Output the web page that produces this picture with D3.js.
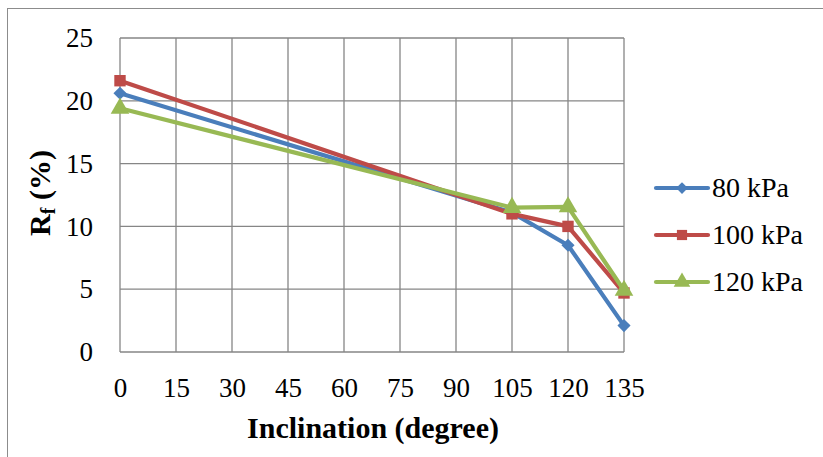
<!DOCTYPE html>
<html><head><meta charset="utf-8">
<script src="https://cdn.jsdelivr.net/npm/d3@7"></script>
<style>body{margin:0;background:#fff}svg{display:block}text{font-family:"Liberation Serif","Times New Roman","DejaVu Serif",serif}</style>
</head><body>
<script>
const xValues = [0, 105, 120, 135];
const xTicks = [0, 15, 30, 45, 60, 75, 90, 105, 120, 135];
const yTicks = [0, 5, 10, 15, 20, 25];
const seriesNames = ["80 kPa", "100 kPa", "120 kPa"];
const s80 = [20.6, 11.1, 8.5, 2.1];
const s100 = [21.6, 11.0, 10.0, 4.7];
const s120 = [19.4, 11.5, 11.55, 4.9];
const colors = ["#4A7EBB", "#BE4B48", "#98B954"];
const symbols = [d3.symbolDiamond2, d3.symbolSquare, d3.symbolTriangle];

const W = 823, H = 457;
const svg = d3.select("body").append("svg").attr("width", W).attr("height", H);
svg.append("rect").attr("x", 7.5).attr("y", 8.5).attr("width", 830).attr("height", 470)
  .attr("fill", "#fff").attr("stroke", "#8c8c8c").attr("stroke-width", 1);

const x = d3.scaleLinear().domain([0, 135]).range([120, 624]);
const y = d3.scaleLinear().domain([0, 25]).range([352, 38]);

const g = svg.append("g");
g.selectAll(".vg").data(xTicks).join("line")
  .attr("x1", d => x(d)).attr("x2", d => x(d)).attr("y1", y(0)).attr("y2", y(25))
  .attr("stroke", "#868686").attr("stroke-width", 1.3);
g.selectAll(".hg").data(yTicks).join("line")
  .attr("x1", x(0)).attr("x2", x(135)).attr("y1", d => y(d)).attr("y2", d => y(d))
  .attr("stroke", "#868686").attr("stroke-width", 1.3);

const xAxis = d3.axisBottom(x).tickValues(xTicks).tickSize(0).tickPadding(26);
const gx = svg.append("g").attr("transform", `translate(0,${y(0)})`).call(xAxis);
gx.attr("font-family", null).attr("font-size", null);
gx.select(".domain").remove();
gx.selectAll("text").style("font-size", "27px").attr("fill", "#000");

const yAxis = d3.axisLeft(y).tickValues(yTicks).tickSize(0).tickPadding(27);
const gy = svg.append("g").attr("transform", `translate(${x(0)},0)`).call(yAxis);
gy.attr("font-family", null).attr("font-size", null);
gy.select(".domain").remove();
gy.selectAll("text").style("font-size", "27px").attr("fill", "#000");

svg.append("text").attr("x", 373).attr("y", 438).attr("text-anchor", "middle")
  .style("font-size", "30px").attr("font-weight", "bold").text("Inclination (degree)");

const yt = svg.append("text").attr("transform", "translate(50,193) rotate(-90)").attr("text-anchor", "middle")
  .style("font-size", "30px").attr("font-weight", "bold");
yt.append("tspan").text("R");
yt.append("tspan").style("font-size", "20px").attr("dy", 5).text("f");
yt.append("tspan").attr("dy", -5).text(" (%)");

const data = [s80, s100, s120];
const line = d3.line().x((d, i) => x(xValues[i])).y(d => y(d));
const sizes = [110, 130, 150];
data.forEach((s, k) => {
  svg.append("path").datum(s).attr("d", line).attr("fill", "none")
    .attr("stroke", colors[k]).attr("stroke-width", 4.2).attr("stroke-linejoin", "round");
  svg.selectAll(".m" + k).data(s).join("path")
    .attr("transform", (d, i) => `translate(${x(xValues[i])},${y(d)})`)
    .attr("d", d3.symbol().type(symbols[k]).size(sizes[k]))
    .attr("fill", colors[k]);
});

const legY = [188, 235, 282];
seriesNames.forEach((n, k) => {
  const lg = svg.append("g").attr("transform", `translate(0,${legY[k]})`);
  lg.append("line").attr("x1", 656).attr("x2", 708).attr("y1", 0).attr("y2", 0)
    .attr("stroke", colors[k]).attr("stroke-width", 4.2).attr("stroke-linecap", "round");
  lg.append("path").attr("transform", "translate(682,0)")
    .attr("d", d3.symbol().type(symbols[k]).size(sizes[k] * 0.8)).attr("fill", colors[k]);
  lg.append("text").attr("x", 712).attr("y", 9).style("font-size", "28px").text(n);
});
</script>
</body></html>
